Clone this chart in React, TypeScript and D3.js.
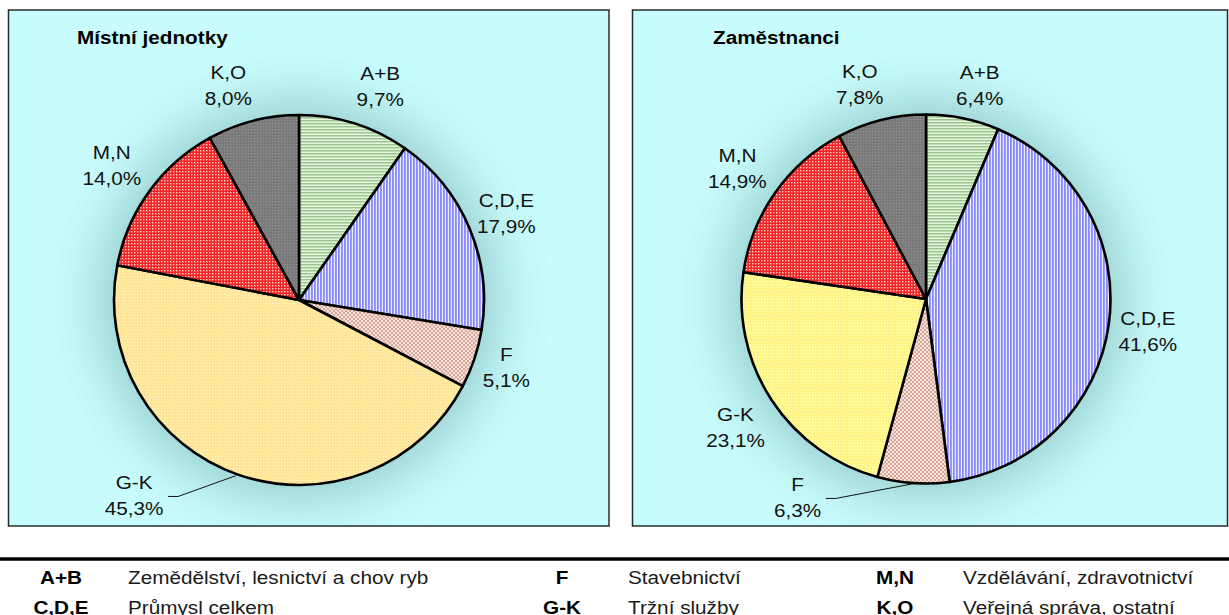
import React from "react";
import * as d3 from "d3";

const categories = ["A+B", "C,D,E", "F", "G-K", "M,N", "K,O"];
const localUnits = [9.7, 17.9, 5.1, 45.3, 14.0, 8.0];
const employees = [6.4, 41.6, 6.3, 23.1, 14.9, 7.8];
const panelTitles = ["Místní jednotky", "Zaměstnanci"];
const legendCodes = ["A+B", "C,D,E", "F", "G-K", "M,N", "K,O"];
const legendNames = [
  "Zemědělství, lesnictví a chov ryb",
  "Průmysl celkem",
  "Stavebnictví",
  "Tržní služby",
  "Vzdělávání, zdravotnictví",
  "Veřejná správa, ostatní",
];

// layout / style (not data)
const W = 1229;
const H = 615;
const FONT = "'Liberation Sans', Arial, Helvetica, sans-serif";
const FS = 18.5;
const SX = 1.12;
const panels = [
  { x: 8.5, y: 10, w: 600.5, h: 516, cx: 299, cy: 300, r: 185, values: localUnits, gk: "gk1", titleX: 77 },
  { x: 632.5, y: 10, w: 595, h: 516, cx: 926, cy: 299, r: 184.5, values: employees, gk: "gk2", titleX: 713 },
];
const LABEL_R = 224;
const labelNudge: Record<string, [number, number]>[] = [
  { "A+B": [14, 0], "C,D,E": [1, 0], F: [-5, -4], "G-K": [-91, -16], "M,N": [-6, -3], "K,O": [-15, 2] },
  { "A+B": [9, 5.5], "C,D,E": [0, 2], F: [-113, -25], "G-K": [-3, 6], "M,N": [-5.5, -1.5], "K,O": [-12, 3] },
];
const leaders = [["G-K"], ["F"]];
const fills: Record<string, string> = {
  "A+B": "url(#pAB)",
  "C,D,E": "url(#pCDE)",
  F: "url(#pF)",
  "M,N": "url(#pMN)",
  "K,O": "url(#pKO)",
};

const fmt = (v: number) => v.toFixed(1).replace(".", ",") + "%";

function ScaledText(props: { x: number; y: number; anchor: string; bold?: boolean; color?: string; children: string }) {
  return (
    <g transform={`translate(${props.x},${props.y}) scale(${SX},1)`}>
      <text
        textAnchor={props.anchor as any}
        fontFamily={FONT}
        fontSize={FS}
        fontWeight={props.bold ? "bold" : "normal"}
        fill={props.color || "#111"}
      >
        {props.children}
      </text>
    </g>
  );
}

function Panel({ p, idx }: { p: (typeof panels)[number]; idx: number }) {
  const pie = d3.pie<number>().sort(null).value((d) => d);
  const arcs = pie(p.values);
  const arc = d3.arc<d3.PieArcDatum<number>>().innerRadius(0).outerRadius(p.r);
  return (
    <g>
      <clipPath id={`clip${idx}`}>
        <rect x={p.x} y={p.y} width={p.w} height={p.h} />
      </clipPath>
      <rect x={p.x} y={p.y} width={p.w} height={p.h} fill="#c9fdfd" />
      <g clipPath={`url(#clip${idx})`}>
        <circle cx={p.cx} cy={p.cy} r={p.r + 10} fill="#84baba" opacity={0.85} filter="url(#glow)" />
      </g>
      <rect x={p.x} y={p.y} width={p.w} height={p.h} fill="none" stroke="#2a2a2a" strokeWidth={1.5} />
      <ScaledText x={p.titleX} y={44} anchor="start" bold color="#000">
        {panelTitles[idx]}
      </ScaledText>
      <g transform={`translate(${p.cx},${p.cy})`}>
        {arcs.map((a, i) => (
          <path
            key={i}
            d={arc(a) || ""}
            fill={categories[i] === "G-K" ? `url(#${p.gk})` : fills[categories[i]]}
            stroke="#000"
            strokeWidth={2.6}
            strokeLinejoin="round"
          />
        ))}
      </g>
      {arcs.map((a, i) => {
        const cat = categories[i];
        const mid = (a.startAngle + a.endAngle) / 2;
        const nudge = labelNudge[idx][cat];
        const lx = p.cx + LABEL_R * Math.sin(mid) + nudge[0];
        const ly = p.cy - LABEL_R * Math.cos(mid) + nudge[1];
        const pct = fmt(p.values[i]);
        let leader = null;
        if (leaders[idx].includes(cat)) {
          const ex = p.cx + p.r * Math.sin(mid);
          const ey = p.cy - p.r * Math.cos(mid);
          const sx = lx + pct.length * 5.8 + 5;
          const pts = [
            [sx, ly + 1],
            [sx + 10, ly + 1],
            [ex - 2, ey + 1],
          ];
          leader = (
            <polyline points={pts.map((q) => q.join(",")).join(" ")} fill="none" stroke="#111" strokeWidth={1} />
          );
        }
        return (
          <g key={"l" + i}>
            {leader}
            <ScaledText x={lx} y={ly - 13 + 6.6} anchor="middle">
              {cat}
            </ScaledText>
            <ScaledText x={lx} y={ly + 13 + 6.6} anchor="middle">
              {pct}
            </ScaledText>
          </g>
        );
      })}
    </g>
  );
}

const legendCols = [
  { code: 61, name: 128 },
  { code: 562, name: 628 },
  { code: 895, name: 963 },
];
const legendRows = [583.5, 613.5];

export default function App() {
  return (
    <div>
      <svg width={W} height={H} style={{ position: "absolute", left: 0, top: 0, background: "#fff" }}>
        <defs>
          <filter id="glow" x="-50%" y="-50%" width="200%" height="200%">
            <feGaussianBlur stdDeviation="30" />
          </filter>
          <pattern id="pAB" width="4" height="3" patternUnits="userSpaceOnUse">
            <rect width="4" height="3" fill="#e6f4df" />
            <rect y="0" width="4" height="1.5" fill="#98c88e" />
          </pattern>
          <pattern id="pCDE" width="3" height="4" patternUnits="userSpaceOnUse">
            <rect width="3" height="4" fill="#ececff" />
            <rect x="0" width="1.8" height="4" fill="#8a8aff" />
          </pattern>
          <pattern id="pF" width="4" height="4" patternUnits="userSpaceOnUse">
            <rect width="4" height="4" fill="#f5e2dc" />
            <rect width="2" height="2" fill="#d8a898" />
            <rect x="2" y="2" width="2" height="2" fill="#d8a898" />
          </pattern>
          <pattern id="gk1" width="3" height="3" patternUnits="userSpaceOnUse">
            <rect width="3" height="3" fill="#ffe596" />
            <rect width="1.2" height="1.2" fill="#fff5cc" />
          </pattern>
          <pattern id="gk2" width="3" height="3" patternUnits="userSpaceOnUse">
            <rect width="3" height="3" fill="#fff584" />
            <rect width="1.2" height="1.2" fill="#ffffcc" />
          </pattern>
          <pattern id="pMN" width="3" height="3" patternUnits="userSpaceOnUse">
            <rect width="3" height="3" fill="#f42424" />
            <rect width="1.4" height="1.4" fill="#ffd8d8" />
          </pattern>
          <pattern id="pKO" width="3" height="3" patternUnits="userSpaceOnUse">
            <rect width="3" height="3" fill="#7a7a7a" />
            <rect width="1.2" height="1.2" fill="#939393" />
          </pattern>
        </defs>
        {panels.map((p, i) => (
          <Panel key={i} p={p} idx={i} />
        ))}
        <line x1={0} x2={W} y1={559} y2={559} stroke="#000" strokeWidth={3.5} />
        {legendCodes.map((c, i) => {
          const col = legendCols[Math.floor(i / 2)];
          const y = legendRows[i % 2];
          return (
            <g key={c}>
              <ScaledText x={col.code} y={y} anchor="middle" bold color="#000">
                {c}
              </ScaledText>
              <ScaledText x={col.name} y={y} anchor="start" color="#1a1a1a">
                {legendNames[i]}
              </ScaledText>
            </g>
          );
        })}
      </svg>
    </div>
  );
}
